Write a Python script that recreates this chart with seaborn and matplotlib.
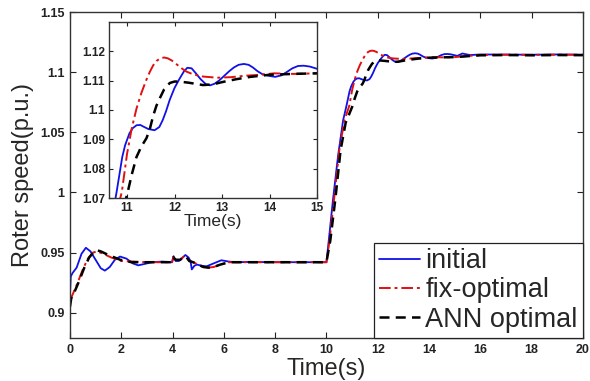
import matplotlib
matplotlib.use("Agg")
import matplotlib.pyplot as plt
import seaborn as sns
import pandas as pd

# ---------------- data ----------------
t_initial = [0, 0.03, 0.1, 0.26, 0.45, 0.62, 0.8, 1.0, 1.2, 1.36, 1.55, 1.75, 1.95, 2.2, 2.45,
             2.66, 2.9, 3.2, 3.6, 3.98, 4.04, 4.12, 4.25, 4.4, 4.5, 4.62, 4.7, 4.75, 4.85, 4.95,
             5.15, 5.33, 5.6, 5.9, 6.2, 6.5, 7, 8, 9, 10.0, 10.1, 10.25, 10.45, 10.65, 10.78,
             10.9, 10.96, 11.05, 11.12, 11.2, 11.28, 11.35, 11.45, 11.58, 11.68, 11.75, 11.82,
             11.9, 12.0, 12.1, 12.2, 12.27, 12.36, 12.45, 12.55, 12.66, 12.75, 12.85, 12.95,
             13.05, 13.15, 13.25, 13.35, 13.46, 13.56, 13.65, 13.75, 13.85, 14.0, 14.12, 14.25,
             14.35, 14.48, 14.6, 14.72, 14.85, 14.97, 15.1, 15.3, 15.6, 16, 17, 18, 19, 20]
v_initial = [0.915, 0.930, 0.933, 0.9375, 0.949, 0.954, 0.951, 0.944, 0.937, 0.935, 0.938, 0.944,
             0.9467, 0.945, 0.941, 0.9394, 0.9405, 0.942, 0.9425, 0.942, 0.947, 0.943, 0.943,
             0.946, 0.948, 0.946, 0.943, 0.936, 0.939, 0.940, 0.939, 0.9386, 0.941, 0.9436,
             0.9425, 0.942, 0.9422, 0.942, 0.942, 0.942, 0.962, 0.993, 1.030, 1.060, 1.072,
             1.084, 1.088, 1.092, 1.0938, 1.0948, 1.0949, 1.0943, 1.0935, 1.0931, 1.0942, 1.0965,
             1.0995, 1.1035, 1.1075, 1.1105, 1.1132, 1.1144, 1.1142, 1.1125, 1.1105, 1.1088,
             1.1084, 1.109, 1.1102, 1.1117, 1.1132, 1.1145, 1.1154, 1.1157, 1.1154, 1.1145,
             1.1132, 1.1122, 1.1116, 1.1113, 1.1118, 1.1128, 1.1142, 1.115, 1.1151, 1.1148,
             1.1142, 1.1135, 1.1155, 1.1142, 1.1147, 1.1146, 1.1145, 1.1147, 1.1145]

t_fix = [0, 0.1, 0.3, 0.5, 0.7, 0.9, 1.05, 1.3, 1.6, 2.0, 2.5, 3.0, 3.98, 4.03, 4.12, 4.3, 4.45,
         4.55, 4.65, 4.8, 5.0, 5.2, 5.39, 5.6, 5.86, 6.2, 7, 8, 9, 10.0, 10.12, 10.3, 10.5, 10.7,
         10.89, 11.0, 11.1, 11.2, 11.3, 11.4, 11.48, 11.55, 11.62, 11.7, 11.78, 11.86, 11.95,
         12.05, 12.15, 12.25, 12.4, 12.6, 12.9, 13.2, 13.5, 13.8, 14.1, 14.5, 15, 16, 17, 18,
         19, 20]
v_fix = [0.910, 0.915, 0.925, 0.936, 0.945, 0.950, 0.951, 0.949, 0.946, 0.943, 0.9425, 0.942,
         0.942, 0.946, 0.944, 0.944, 0.947, 0.946, 0.943, 0.942, 0.940, 0.938, 0.9375, 0.938,
         0.940, 0.942, 0.942, 0.942, 0.942, 0.942, 0.960, 0.995, 1.035, 1.060, 1.072, 1.085,
         1.0938, 1.1005, 1.1057, 1.1100, 1.113, 1.1152, 1.1167, 1.1176, 1.1179, 1.1176, 1.1168,
         1.1155, 1.1142, 1.1131, 1.1121, 1.1114, 1.111, 1.1112, 1.1117, 1.112, 1.1125, 1.1123,
         1.1125, 1.1143, 1.1145, 1.1144, 1.1145, 1.1145]

t_ann = [0, 0.05, 0.15, 0.35, 0.55, 0.75, 0.95, 1.04, 1.2, 1.5, 1.96, 2.4, 3.0, 3.98, 4.03, 4.12,
         4.3, 4.45, 4.55, 4.65, 4.8, 5.0, 5.2, 5.39, 5.6, 5.86, 6.2, 7, 8, 9, 10.0, 10.15, 10.35,
         10.55, 10.75, 11.0, 11.1, 11.2, 11.3, 11.41, 11.48, 11.55, 11.62, 11.69, 11.78, 11.9,
         12.0, 12.1, 12.3, 12.6, 12.8, 13.0, 13.3, 13.6, 14.0, 14.5, 15, 16, 17, 18, 19, 20]
v_ann = [0.905, 0.912, 0.916, 0.926, 0.937, 0.946, 0.951, 0.952, 0.951, 0.948, 0.944, 0.942,
         0.942, 0.942, 0.946, 0.944, 0.944, 0.947, 0.946, 0.943, 0.942, 0.940, 0.938, 0.9375,
         0.938, 0.940, 0.942, 0.942, 0.942, 0.942, 0.942, 0.960, 0.995, 1.035, 1.058, 1.071,
         1.078, 1.084, 1.0875, 1.0904, 1.0935, 1.098, 1.1015, 1.104, 1.107, 1.1092, 1.1097,
         1.1097, 1.1093, 1.1085, 1.1087, 1.1095, 1.1105, 1.1113, 1.112, 1.1123, 1.1125, 1.114,
         1.1142, 1.114, 1.1142, 1.1141]

labels = ["initial", "fix-optimal", "ANN optimal"]
main_xticks = [0, 2, 4, 6, 8, 10, 12, 14, 16, 18, 20]
main_yticks = [0.9, 0.95, 1.0, 1.05, 1.1, 1.15]
main_yticklabels = ["0.9", "0.95", "1", "1.05", "1.1", "1.15"]
inset_xticks = [11, 12, 13, 14, 15]
inset_yticks = [1.07, 1.08, 1.09, 1.1, 1.11, 1.12]
inset_yticklabels = ["1.07", "1.08", "1.09", "1.1", "1.11", "1.12"]

# ---------------- style ----------------
sns.set_style("ticks")
plt.rcParams['font.family'] = ['Liberation Sans', 'DejaVu Sans']

fig = plt.figure(figsize=(5.9, 3.81), dpi=100)
ax = fig.add_axes([0.1186, 0.1129, 0.8694, 0.8556])
axin = fig.add_axes([0.1847, 0.4803, 0.3526, 0.462])

blue = "#1010e8"
red = "#e01010"
black = "#000000"

series = [
    (t_initial, v_initial, blue, "-", 1.3),
    (t_fix, v_fix, red, (0, (6, 2, 1.5, 2)), 1.4),
    (t_ann, v_ann, black, (0, (4, 2.5)), 1.8),
]

for a in (ax, axin):
    for (t, v, c, ls, lw), lab in zip(series, labels):
        df = pd.DataFrame({"t": t, "v": v})
        sns.lineplot(data=df, x="t", y="v", ax=a, color=c, linestyle=ls, linewidth=lw,
                     estimator=None, sort=False, label=lab if a is ax else None)

# main axes
ax.set_xlim(0, 20)
ax.set_ylim(0.879, 1.15)
ax.set_xticks(main_xticks)
ax.set_xticklabels([str(x) for x in main_xticks], fontweight="bold", fontsize=9)
ax.set_yticks(main_yticks)
ax.set_yticklabels(main_yticklabels, fontweight="bold", fontsize=9)
ax.set_xlabel("Time(s)", fontsize=17, labelpad=2)
ax.set_ylabel("Roter speed(p.u.)", fontsize=17, labelpad=4)
ax.tick_params(direction="in", length=4, width=0.8, top=True, right=True, pad=4, colors="#222222")
for s in ax.spines.values():
    s.set_color("#333333")
    s.set_linewidth(1.0)

leg = ax.legend(loc="lower right", fontsize=19.5, frameon=True, fancybox=False,
                edgecolor="#222222", framealpha=1, borderaxespad=0.0, labelspacing=0.12,
                handlelength=1.5, handletextpad=0.2, borderpad=0.2)
leg.get_frame().set_linewidth(0.9)

# inset axes
axin.set_xlim(10.62, 15.0)
axin.set_ylim(1.07, 1.13)
axin.set_xticks(inset_xticks)
axin.set_xticklabels([str(x) for x in inset_xticks], fontweight="bold", fontsize=8.5)
axin.set_yticks(inset_yticks)
axin.set_yticklabels(inset_yticklabels, fontweight="bold", fontsize=8.5)
axin.set_xlabel("Time(s)", fontsize=12.5, labelpad=0)
axin.set_ylabel("")
axin.tick_params(direction="in", length=3, width=0.8, top=True, right=True, pad=3, colors="#222222")
for s in axin.spines.values():
    s.set_color("#333333")
    s.set_linewidth(1.0)

fig.savefig("out.png", dpi=100)
